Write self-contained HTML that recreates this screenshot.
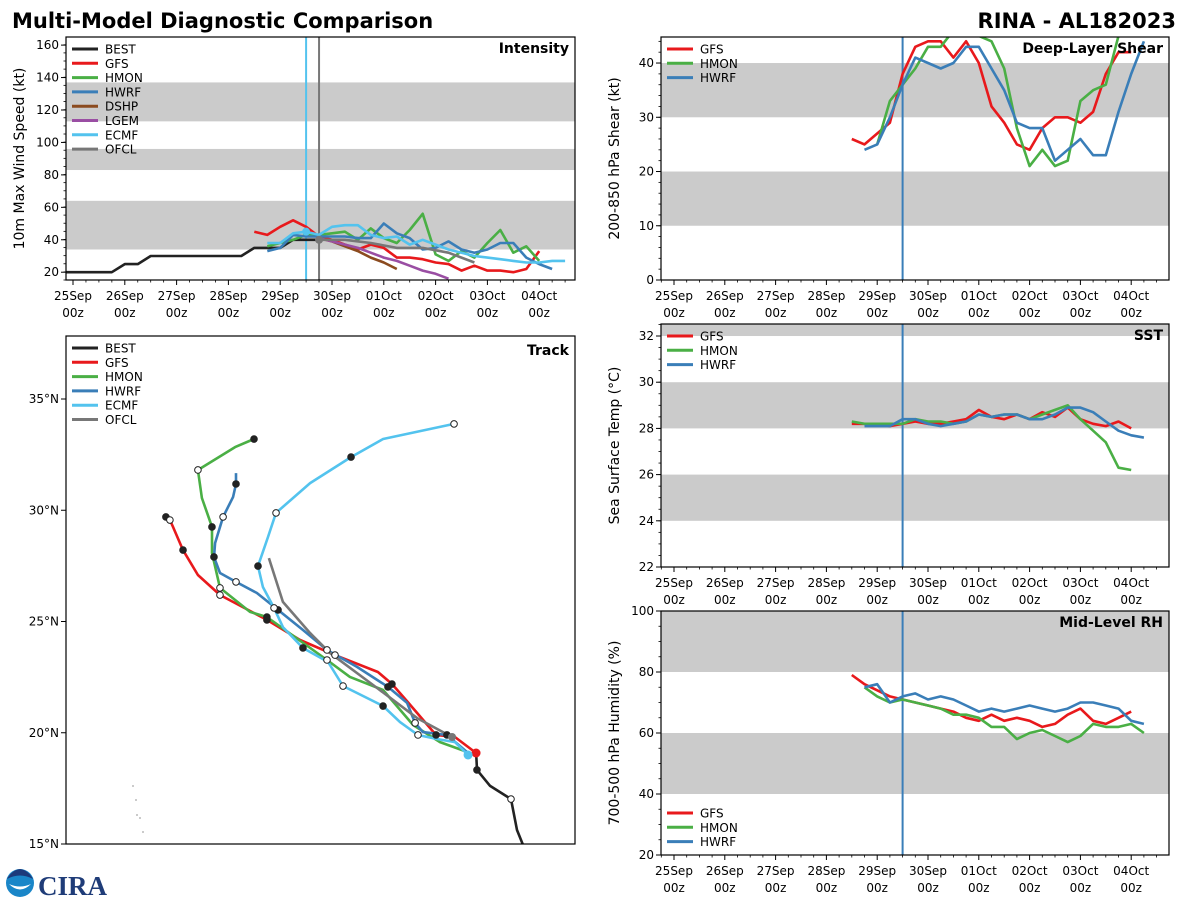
<!DOCTYPE html>
<html><head><meta charset="utf-8">
<style>
html,body{margin:0;padding:0;background:#fff;}
svg{display:block;font-family:"DejaVu Sans","Liberation Sans",sans-serif;}
</style></head>
<body>
<svg id="chart" width="1200" height="900" viewBox="0 0 1200 900" xmlns="http://www.w3.org/2000/svg">
<text x="12" y="28" font-size="21" font-weight="bold">Multi-Model Diagnostic Comparison</text>
<text x="1176" y="28" font-size="21" font-weight="bold" text-anchor="end">RINA - AL182023</text>
<g>
<circle cx="20" cy="883" r="14" fill="#1a86c8"/>
<path d="M7,879 Q20,872 33,879 Q28,870 20,869 Q12,870 7,879Z" fill="#1d3a7a"/>
<path d="M9,884 Q20,895 31,884 Q20,889 9,884Z" fill="#fff"/>
<text x="38" y="895" font-size="27" font-weight="bold" fill="#1f3c78" font-family="Liberation Serif,serif">CIRA</text>
</g>
</svg>
<script>
// ---------- data ----------
const intensityModels = ["BEST","GFS","HMON","HWRF","DSHP","LGEM","ECMF","OFCL"];
const intensityStart = [-6,84,90,90,114,114,90,114];
const intensityStep = [6,6,6,6,6,6,6,12];
const bestVmax = [20,20,20,20,20,25,25,30,30,30,30,30,30,30,30,35,35,35,40,40,40];
const gfsVmax = [45,43,48,52,48,42,40,37,34,37,35,29,29,28,26,25,21,24,21,21,20,22,33];
const hmonVmax = [36,38,40,43,43,44,45,40,47,41,38,46,56,31,27,33,29,38,46,32,36,27];
const hwrfVmax = [33,35,43,42,42,42,42,41,41,50,44,41,34,35,39,34,32,34,38,38,29,25,22];
const dshpVmax = [41,39,36,33,29,26,22];
const lgemVmax = [41,39,37,35,32,29,27,24,21,19,16];
const ecmfVmax = [38,38,44,45,43,48,49,49,43,41,42,37,40,37,34,32,30,29,28,27,26,26,27,27];
const ofclVmax = [40,40,38,35,35,32,26];
const intensityTicks = [20,40,60,80,100,120,140,160];
const dateLabels = ["25Sep","26Sep","27Sep","28Sep","29Sep","30Sep","01Oct","02Oct","03Oct","04Oct"];

const envModels = ["GFS","HMON","HWRF"];
const shearStart = [84,96,90];
const gfsShear = [26,25,27,29,38,43,44,44,41,44,40,32,29,25,24,28,30,30,29,31,38,42,42];
const hmonShear = [25,33,36,39,43,43,46,46,45,44,39,28,21,24,21,22,33,35,36,45];
const hwrfShear = [24,25,30,36,41,40,39,40,43,43,39,35,29,28,28,22,24,26,23,23,31,38,44];
const shearTicks = [0,10,20,30,40];

const sstStart = [84,84,90];
const gfsSst = [28.2,28.2,28.2,28.1,28.2,28.3,28.2,28.2,28.3,28.4,28.8,28.5,28.4,28.6,28.4,28.7,28.5,28.9,28.4,28.2,28.1,28.3,28.0];
const hmonSst = [28.3,28.2,28.2,28.2,28.2,28.4,28.3,28.3,28.2,28.3,28.6,28.5,28.6,28.6,28.4,28.6,28.8,29.0,28.4,27.9,27.4,26.3,26.2];
const hwrfSst = [28.1,28.1,28.1,28.4,28.4,28.2,28.1,28.2,28.3,28.6,28.5,28.6,28.6,28.4,28.4,28.6,28.9,28.9,28.7,28.3,27.9,27.7,27.6];
const sstTicks = [22,24,26,28,30,32];

const rhStart = [84,90,90];
const gfsRh = [79,76,74,72,71,70,69,68,67,65,64,66,64,65,64,62,63,66,68,64,63,65,67];
const hmonRh = [75,72,70,71,70,69,68,66,66,65,62,62,58,60,61,59,57,59,63,62,62,63,60];
const hwrfRh = [75,76,70,72,73,71,72,71,69,67,68,67,68,69,68,67,68,70,70,69,68,64,63];
const rhTicks = [20,40,60,80,100];

const trackModels = ["BEST","GFS","HMON","HWRF","ECMF","OFCL"];
const bestLon = [-48.57,-48.53,-47.94,-47.0,-46.73,-46.46];
const bestLat = [19.13,18.33,17.61,17.02,15.63,14.96];
const gfsLon = [-48.57,-49.52,-50.37,-51.72,-52.35,-52.98,-54.91,-56.48,-57.97,-60.08,-61.07,-61.74,-62.19,-62.33,-62.51];
const gfsLat = [19.09,19.81,19.90,21.47,22.19,22.73,23.49,24.17,25.07,26.19,27.09,28.21,29.25,29.56,29.70];
const hmonLon = [-48.84,-50.19,-51.40,-52.75,-54.24,-55.27,-57.97,-58.73,-60.08,-60.44,-60.44,-60.89,-61.07,-59.40,-58.55];
const hmonLat = [19.09,19.58,20.35,21.92,22.51,23.27,25.20,25.43,26.51,28.08,29.25,30.55,31.81,32.84,33.20];
const hwrfLon = [-48.93,-49.88,-50.96,-51.31,-51.67,-52.53,-53.92,-55.27,-56.35,-57.47,-58.42,-59.36,-60.08,-60.35,-60.30,-59.94,-59.49,-59.36,-59.36];
const hwrfLat = [19.09,19.90,20.03,20.44,21.34,22.06,22.96,23.72,24.62,25.52,26.28,26.78,27.18,27.90,28.53,29.70,30.60,31.18,31.67];
const ecmfLon = [-48.93,-49.52,-50.33,-51.18,-51.99,-52.75,-54.55,-55.22,-56.35,-57.25,-57.65,-58.15,-58.37,-57.92,-57.56,-56.03,-54.19,-52.75,-49.56];
const ecmfLat = [19.0,19.58,19.72,19.90,20.48,21.20,22.10,23.18,23.81,24.75,25.61,26.55,27.49,28.80,29.88,31.22,32.39,33.20,33.88];
const ofclLon = [-49.65,-51.22,-53.02,-55.13,-56.03,-57.25,-57.88];
const ofclLat = [19.81,20.66,22.01,23.58,24.48,25.88,27.85];
const bestMarkIdx = [1,3], bestMarkFill = [1,0];
const gfsMarkIdx = [14,13,11,9,8,6,4,2], gfsMarkFill = [1,0,1,0,1,0,1,1];
const hmonMarkIdx = [14,12,10,8,6,5], hmonMarkFill = [1,0,1,0,1,0];
const hwrfMarkIdx = [17,15,13,11,9,7,5,3,1], hwrfMarkFill = [1,0,1,0,1,0,1,0,1];
const ecmfMarkIdx = [18,16,14,12,10,8,6,5,3], ecmfMarkFill = [0,1,0,1,0,1,0,1,0];

// ---------- helpers ----------
const NS="http://www.w3.org/2000/svg";
const svg=document.getElementById("chart");
function mk(tag,attrs,parent){const e=document.createElementNS(NS,tag);for(const k in attrs)e.setAttribute(k,attrs[k]);(parent||svg).appendChild(e);return e;}
const colors={BEST:"#222222",GFS:"#e8191c",HMON:"#4aaf45",HWRF:"#3a7eb8",DSHP:"#8b4b1f",LGEM:"#9a4ea3",ECMF:"#53c3ee",OFCL:"#777777"};

function timePanel(p){
  const g=mk("g",{});
  
  
  const x0=p.x0, day=p.day;
  const xh=h=>x0+h*day/24;
  const yv=v=>p.bottom-(v-p.ymin)/(p.ymax-p.ymin)*(p.bottom-p.top);
  const cid="clip-"+p.name;
  const cp=mk("clipPath",{id:cid},g);mk("rect",{x:p.left,y:p.top,width:p.right-p.left,height:p.bottom-p.top},cp);
  p.bands.forEach(b=>{const r=mk("rect",{x:p.left,y:yv(Math.min(b[1],p.ymax)),width:p.right-p.left,height:yv(b[0])-yv(Math.min(b[1],p.ymax)),fill:"#cbcbcb"},g);
    
    });
  const lines=mk("g",{"clip-path":"url(#"+cid+")"},g);
  (p.vlines||[]).forEach(v=>{const l=mk("line",{x1:xh(v[0]),x2:xh(v[0]),y1:p.top,y2:p.bottom,stroke:v[1],"stroke-width":2},lines);
    
    });
  p.series.forEach(s=>{
    const pts=s.vals.map((v,i)=>xh(s.start+i*s.step).toFixed(1)+","+yv(v).toFixed(1)).join(" ");
    const pl=mk("polyline",{points:pts,fill:"none",stroke:colors[s.model],"stroke-width":2.6,"stroke-linejoin":"round"},lines);
    
    
  });
  (p.markers||[]).forEach(m=>{const c=mk("circle",{cx:xh(m[0]),cy:yv(m[1]),r:4,fill:m[2]},lines);
    
    });
  const fr=mk("rect",{x:p.left,y:p.top,width:p.right-p.left,height:p.bottom-p.top,fill:"none",stroke:"#000","stroke-width":1.2},g);
  
  
  p.yticks.forEach(t=>{const y=yv(t);mk("line",{x1:p.left-5,x2:p.left,y1:y,y2:y,stroke:"#000"},g);
    const tx=mk("text",{x:p.left-7,y:y+4,"font-size":12,"text-anchor":"end"},g);tx.textContent=t;
    
    });
  for(let v=p.ymin;v<=p.ymax;v+=p.minor){const y=yv(v);mk("line",{x1:p.left-2.5,x2:p.left,y1:y,y2:y,stroke:"#000","stroke-width":0.8},g);}
  for(let h=-24;h<=260;h+=6){const x=xh(h);if(x<p.left||x>p.right)continue;const major=h%24===0;
    mk("line",{x1:x,x2:x,y1:p.bottom,y2:p.bottom+(major?5:2.5),stroke:"#000","stroke-width":major?1:0.8},g);}
  dateLabels.forEach((d,i)=>{const x=xh(i*24);
    const t1=mk("text",{x:x,y:p.bottom+20,"font-size":12,"text-anchor":"middle"},g);t1.textContent=d;
    
    
    const t2=mk("text",{x:x,y:p.bottom+37,"font-size":12,"text-anchor":"middle"},g);t2.textContent="00z";
    
    });
  const yl=mk("text",{x:0,y:0,"font-size":14,"text-anchor":"middle",transform:`translate(${p.left-42},${(p.top+p.bottom)/2}) rotate(-90)`},g);yl.textContent=p.ylabel;
  
  
  const pt=mk("text",{x:p.right-6,y:p.top+16,"font-size":14,"font-weight":"bold","text-anchor":"end"},g);pt.textContent=p.title;
  
  
  legend(g,p.legendModels,p.left+6,p.legendY);
}
function legend(g,models,x,y){
  models.forEach((m,i)=>{const yy=y+i*14.3;
    const it=mk("g",{},g);
    
    
    mk("line",{x1:x,x2:x+26,y1:yy,y2:yy,stroke:colors[m],"stroke-width":3},it);
    const t=mk("text",{x:x+33,y:yy+4.5,"font-size":12},it);t.textContent=m;});
}
function ser(model,start,step,vals){return {model,start,step,vals};}

timePanel({name:"intensity-panel",title:"Intensity",ylabel:"10m Max Wind Speed (kt)",left:66,right:575,top:37,bottom:280,x0:73,day:51.8,
  ymin:15.2,ymax:165,yticks:intensityTicks,minor:5,bands:[[34,64],[83,96],[113,137]],
  vlines:[[108,"#53c3ee"],[114,"#777777"]],markers:[[108,45,"#53c3ee"],[114,40,"#777777"]],
  series:[ser("BEST",intensityStart[0],intensityStep[0],bestVmax),ser("GFS",intensityStart[1],intensityStep[1],gfsVmax),
    ser("HMON",intensityStart[2],intensityStep[2],hmonVmax),ser("HWRF",intensityStart[3],intensityStep[3],hwrfVmax),
    ser("DSHP",intensityStart[4],intensityStep[4],dshpVmax),ser("LGEM",intensityStart[5],intensityStep[5],lgemVmax),
    ser("ECMF",intensityStart[6],intensityStep[6],ecmfVmax),ser("OFCL",intensityStart[7],intensityStep[7],ofclVmax)],
  legendModels:intensityModels,legendY:49});
timePanel({name:"shear-panel",title:"Deep-Layer Shear",ylabel:"200-850 hPa Shear (kt)",left:661,right:1169,top:37,bottom:280,x0:674,day:50.8,
  ymin:0,ymax:44.8,yticks:shearTicks,minor:2,bands:[[10,20],[30,40]],vlines:[[108,"#3a7eb8"]],
  series:[ser("GFS",shearStart[0],6,gfsShear),ser("HMON",shearStart[1],6,hmonShear),ser("HWRF",shearStart[2],6,hwrfShear)],
  legendModels:envModels,legendY:49});
timePanel({name:"sst-panel",title:"SST",ylabel:"Sea Surface Temp (°C)",left:661,right:1169,top:324,bottom:567,x0:674,day:50.8,
  ymin:22,ymax:32.52,yticks:sstTicks,minor:0.5,bands:[[24,26],[28,30],[32,34]],vlines:[[108,"#3a7eb8"]],
  series:[ser("GFS",sstStart[0],6,gfsSst),ser("HMON",sstStart[1],6,hmonSst),ser("HWRF",sstStart[2],6,hwrfSst)],
  legendModels:envModels,legendY:336});
timePanel({name:"rh-panel",title:"Mid-Level RH",ylabel:"700-500 hPa Humidity (%)",left:661,right:1169,top:611,bottom:855,x0:674,day:50.8,
  ymin:20,ymax:100,yticks:rhTicks,minor:5,bands:[[40,60],[80,100]],vlines:[[108,"#3a7eb8"]],
  series:[ser("GFS",rhStart[0],6,gfsRh),ser("HMON",rhStart[1],6,hmonRh),ser("HWRF",rhStart[2],6,hwrfRh)],
  legendModels:envModels,legendY:813});

// ---------- track ----------
(function(){
  const L=66,R=575,T=336,B=844;
  const xl=lon=>L+(lon+67)*22.25;
  const yl=lat=>B-(lat-15)*22.25;
  const g=mk("g",{});
  
  
  const cp=mk("clipPath",{id:"clip-track"},g);mk("rect",{x:L,y:T,width:R-L,height:B-T},cp);
  const lg=mk("g",{"clip-path":"url(#clip-track)"},g);
  [[133,786],[136,800],[137,815],[140,818],[143,832]].forEach(p=>mk("circle",{cx:p[0],cy:p[1],r:1,fill:"#bbb"},lg));
  const tracks=[["GFS",gfsLon,gfsLat],["HMON",hmonLon,hmonLat],["HWRF",hwrfLon,hwrfLat],["ECMF",ecmfLon,ecmfLat],["OFCL",ofclLon,ofclLat],["BEST",bestLon,bestLat]];
  tracks.forEach(t=>{const pts=t[1].map((lo,i)=>xl(lo).toFixed(1)+","+yl(t[2][i]).toFixed(1)).join(" ");
    const pl=mk("polyline",{points:pts,fill:"none",stroke:colors[t[0]],"stroke-width":2.6,"stroke-linejoin":"round"},lg);
    
    });
  const marks=[[gfsLon,gfsLat,gfsMarkIdx,gfsMarkFill],[hmonLon,hmonLat,hmonMarkIdx,hmonMarkFill],[hwrfLon,hwrfLat,hwrfMarkIdx,hwrfMarkFill],[ecmfLon,ecmfLat,ecmfMarkIdx,ecmfMarkFill],[bestLon,bestLat,bestMarkIdx,bestMarkFill]];
  marks.forEach(m=>m[2].forEach((i,k)=>{const c=mk("circle",{cx:xl(m[0][i]),cy:yl(m[1][i]),r:3.3,fill:m[3][k]?"#222":"#fff",stroke:"#222","stroke-width":1},lg);
    
    }));
  mk("circle",{cx:xl(gfsLon[0]),cy:yl(gfsLat[0]),r:4.5,fill:"#e8191c"},lg);
  mk("circle",{cx:xl(ecmfLon[0]),cy:yl(ecmfLat[0]),r:4.5,fill:"#53c3ee"},lg);
  mk("circle",{cx:xl(ofclLon[0]),cy:yl(ofclLat[0]),r:4,fill:"#777"},lg);
  const fr=mk("rect",{x:L,y:T,width:R-L,height:B-T,fill:"none",stroke:"#000","stroke-width":1.2},g);
  
  
  [15,20,25,30,35].forEach(lat=>{const y=yl(lat);mk("line",{x1:L-5,x2:L,y1:y,y2:y,stroke:"#000"},g);
    const t=mk("text",{x:L-7,y:y+4,"font-size":12,"text-anchor":"end"},g);t.textContent=lat+"°N";
    
    });
  const pt=mk("text",{x:R-6,y:T+19,"font-size":14,"font-weight":"bold","text-anchor":"end"},g);pt.textContent="Track";
  
  
  legend(g,trackModels,L+6,348);
})();
</script>
</body></html>
